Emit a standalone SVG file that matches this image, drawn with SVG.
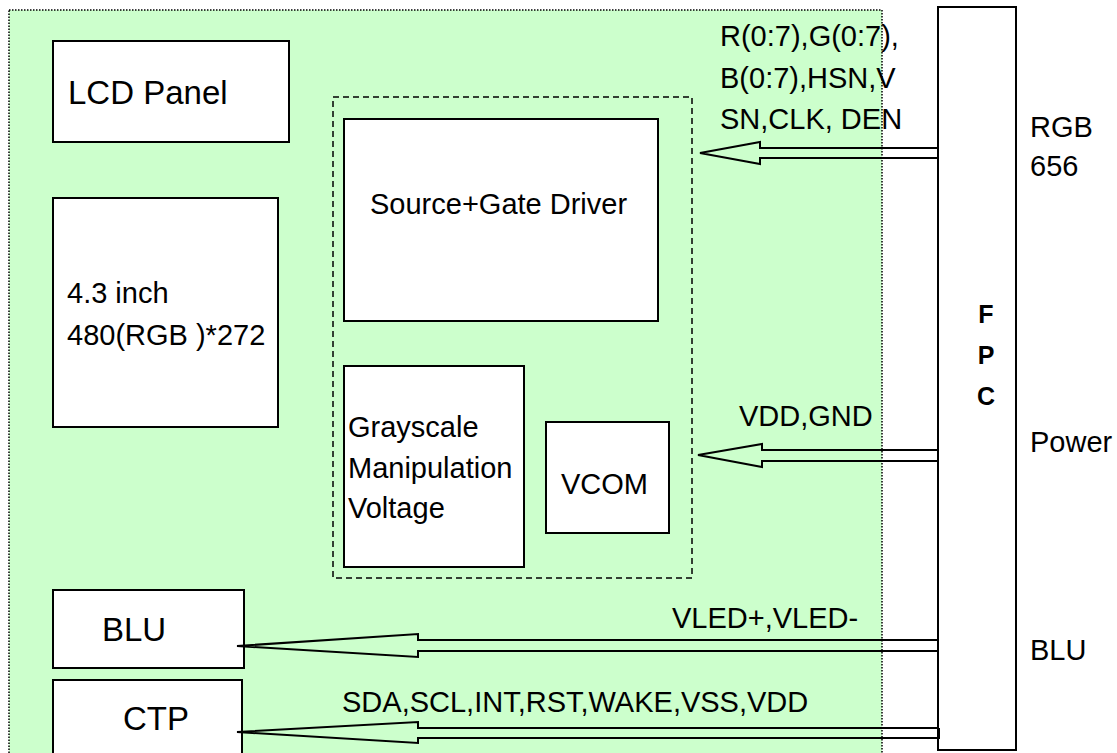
<svg xmlns="http://www.w3.org/2000/svg" width="1117" height="753" viewBox="0 0 1117 753">
<style>
.box{fill:#fff;stroke:#000;stroke-width:2}
.t{font-family:"Liberation Sans",Arial,sans-serif;font-size:29px;fill:#000}
.tl{font-family:"Liberation Sans",Arial,sans-serif;font-size:33px;fill:#000}
.tb{font-family:"Liberation Sans",Arial,sans-serif;font-size:25px;font-weight:bold;fill:#000;text-anchor:middle}
.arr{fill:none;stroke:#000;stroke-width:2;stroke-linejoin:miter}
</style>
<rect width="1117" height="753" fill="#fff"/>
<g id="board">
<rect x="9" y="10" width="873" height="760" fill="#CCFFCC" stroke="#000" stroke-width="1.5" stroke-dasharray="1.5,1.5"/>
<rect x="333" y="97" width="359" height="481" fill="none" stroke="#000" stroke-width="1.5" stroke-dasharray="6,4"/>
</g>
<g id="lcd-panel"><rect class="box" x="53" y="41" width="236" height="101"/><text class="tl" x="68" y="104">LCD Panel</text></g>
<g id="panel-spec"><rect class="box" x="53" y="198" width="225" height="229"/><text class="t" x="67" y="303">4.3 inch</text><text class="t" x="67" y="345">480(RGB )*272</text></g>
<g id="source-gate"><rect class="box" x="344" y="119" width="314" height="202"/><text class="t" x="370" y="214">Source+Gate Driver</text></g>
<g id="grayscale"><rect class="box" x="344" y="366" width="180" height="201"/><text class="t" x="348" y="437">Grayscale</text><text class="t" x="348" y="478">Manipulation</text><text class="t" x="348" y="518">Voltage</text></g>
<g id="vcom"><rect class="box" x="546" y="422" width="123" height="111"/><text class="t" x="561" y="494">VCOM</text></g>
<g id="blu"><rect class="box" x="53" y="590" width="191" height="78"/><text class="tl" x="102" y="641">BLU</text></g>
<g id="ctp"><rect class="box" x="53" y="680" width="189" height="90"/><text class="tl" x="123" y="730">CTP</text></g>
<g id="fpc"><rect class="box" x="938" y="7" width="78" height="743"/><text class="tb" x="986" y="323">F</text><text class="tb" x="986" y="364">P</text><text class="tb" x="986" y="405">C</text></g>
<g id="connectors">
<polyline class="arr" points="938,148 760,148 760,142 700,153 760,164 760,158 938,158"/>
<polyline class="arr" points="938,450 762,450 762,444 698,455 762,467 762,461 938,461"/>
<polyline class="arr" points="938,640 418,640 418,634 237,646 418,657 418,651 938,651"/>
<polyline class="arr" points="939,728 418,728 418,722 237,732 418,743 418,738 939,738 939,728"/>
</g>
<g id="labels">
<text class="t" x="720" y="46">R(0:7),G(0:7),</text>
<text class="t" x="720" y="88">B(0:7),HSN,V</text>
<text class="t" x="720" y="129">SN,CLK, DEN</text>
<text class="t" x="739" y="426">VDD,GND</text>
<text class="t" x="672" y="628">VLED+,VLED-</text>
<text class="t" x="342" y="712">SDA,SCL,INT,RST,WAKE,VSS,VDD</text>
<text class="t" x="1030" y="137">RGB</text>
<text class="t" x="1030" y="176">656</text>
<text class="t" x="1030" y="452">Power</text>
<text class="t" x="1030" y="660">BLU</text>
</g>
</svg>
